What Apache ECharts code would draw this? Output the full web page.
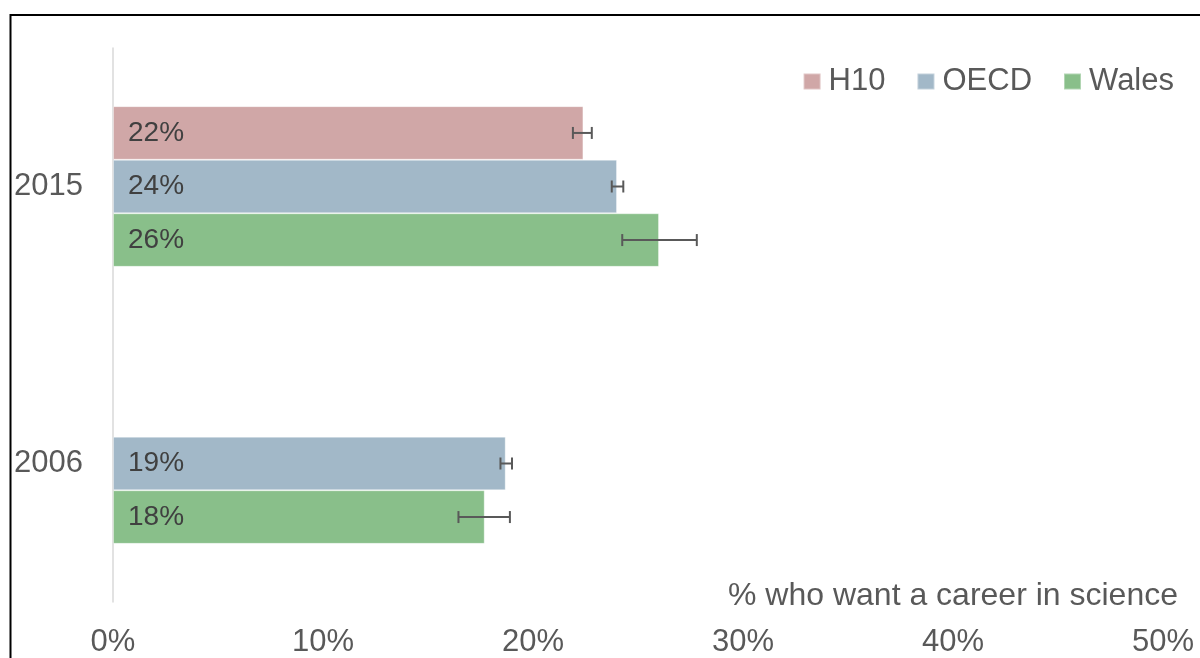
<!DOCTYPE html>
<html>
<head>
<meta charset="utf-8">
<script src="https://cdn.jsdelivr.net/npm/echarts@6/dist/echarts.min.js"></script>
<style>
html,body{margin:0;padding:0;background:#fff;}
#chart{width:1200px;height:658px;}
</style>
</head>
<body>
<div id="chart"></div>
<script>
// ---- data ----
const categories = ['2015', '2006'];
const seriesNames = ['H10', 'OECD', 'Wales'];
const h10Values = [22.4, null];
const oecdValues = [24.0, 18.7];
const walesValues = [26.0, 17.7];
const h10Err = [[21.9, 22.8], null];
const oecdErr = [[23.75, 24.3], [18.45, 19.0]];
const walesErr = [[24.25, 27.8], [16.45, 18.9]];
const xTicks = [0, 10, 20, 30, 40, 50];
const axisTitle = '% who want a career in science';

const colors = ['#d0a7a7', '#a2b8c8', '#89bf8a'];
const FONT = '"Liberation Sans", Arial, sans-serif';
const CAT_GAP = 0.42;

const chart = echarts.init(document.getElementById('chart'), null, {renderer: 'canvas'});

const valueSets = [h10Values, oecdValues, walesValues];
const errSets = [h10Err, oecdErr, walesErr];

const errData = [];
errSets.forEach((set, s) => {
  set.forEach((e, c) => { if (e) errData.push([c, e[0], e[1], s]); });
});

const barSeries = seriesNames.map((name, i) => ({
  name: name,
  type: 'bar',
  data: valueSets[i].map(v => v === null ? '-' : v),
  barGap: '0%',
  barCategoryGap: (CAT_GAP * 100) + '%',
  itemStyle: { color: colors[i], borderColor: 'rgba(255,255,255,0.35)', borderWidth: 1 },
  label: {
    show: true,
    position: 'insideLeft',
    distance: 15,
    formatter: p => Math.round(p.value) + '%',
    fontFamily: FONT,
    fontSize: 28,
    color: '#404040',
    padding: [4, 0, 0, 0]
  },
  emphasis: { disabled: true },
  z: 2
}));

const errSeries = {
  name: 'err',
  type: 'custom',
  data: errData,
  encode: { x: [1, 2], y: 0 },
  z: 5,
  silent: true,
  renderItem: function (params, api) {
    const cat = api.value(0);
    const lo = api.coord([api.value(1), cat]);
    const hi = api.coord([api.value(2), cat]);
    const s = api.value(3);
    const band = api.size([0, 1])[1];
    const bw = band * (1 - CAT_GAP) / 3;
    const y = lo[1] + (s - 1) * bw;
    const cap = 6;
    const st = { stroke: '#595959', lineWidth: 2 };
    return {
      type: 'group',
      children: [
        { type: 'line', shape: { x1: lo[0], y1: y, x2: hi[0], y2: y }, style: st },
        { type: 'line', shape: { x1: lo[0], y1: y - cap, x2: lo[0], y2: y + cap }, style: st },
        { type: 'line', shape: { x1: hi[0], y1: y - cap, x2: hi[0], y2: y + cap }, style: st }
      ]
    };
  }
};

const option = {
  animation: false,
  backgroundColor: '#ffffff',
  textStyle: { fontFamily: FONT },
  grid: { left: 113, right: 37, top: 48, bottom: 55, containLabel: false },
  legend: {
    data: seriesNames,
    right: 21,
    top: 61,
    itemWidth: 17,
    itemHeight: 16,
    itemGap: 31,
    icon: 'rect',
    textStyle: { fontFamily: FONT, fontSize: 31, color: '#595959', padding: [0, 0, 0, 3] }
  },
  xAxis: {
    type: 'value',
    min: 0,
    max: 50,
    interval: 10,
    axisLine: { show: false },
    axisTick: { show: false },
    splitLine: { show: false },
    axisLabel: {
      formatter: v => xTicks.includes(v) ? v + '%' : '',
      fontFamily: FONT,
      fontSize: 31,
      color: '#595959',
      margin: 25
    }
  },
  yAxis: {
    type: 'category',
    data: categories,
    inverse: true,
    axisLine: { show: true, lineStyle: { color: '#d9d9d9', width: 1.5 } },
    axisTick: { show: false },
    axisLabel: { fontFamily: FONT, fontSize: 31, color: '#595959', margin: 30, padding: [4, 0, 0, 0] }
  },
  graphic: [
    {
      type: 'rect',
      shape: { x: 10.5, y: 15, width: 1400, height: 900 },
      style: { fill: null, stroke: '#000', lineWidth: 2 },
      z: 100,
      silent: true
    },
    {
      type: 'text',
      x: 1178,
      y: 596,
      style: {
        text: axisTitle,
        font: '32px ' + FONT,
        fill: '#595959',
        textAlign: 'right',
        textVerticalAlign: 'middle'
      }
    }
  ],
  series: barSeries.concat([errSeries])
};

chart.setOption(option);
</script>
</body>
</html>
